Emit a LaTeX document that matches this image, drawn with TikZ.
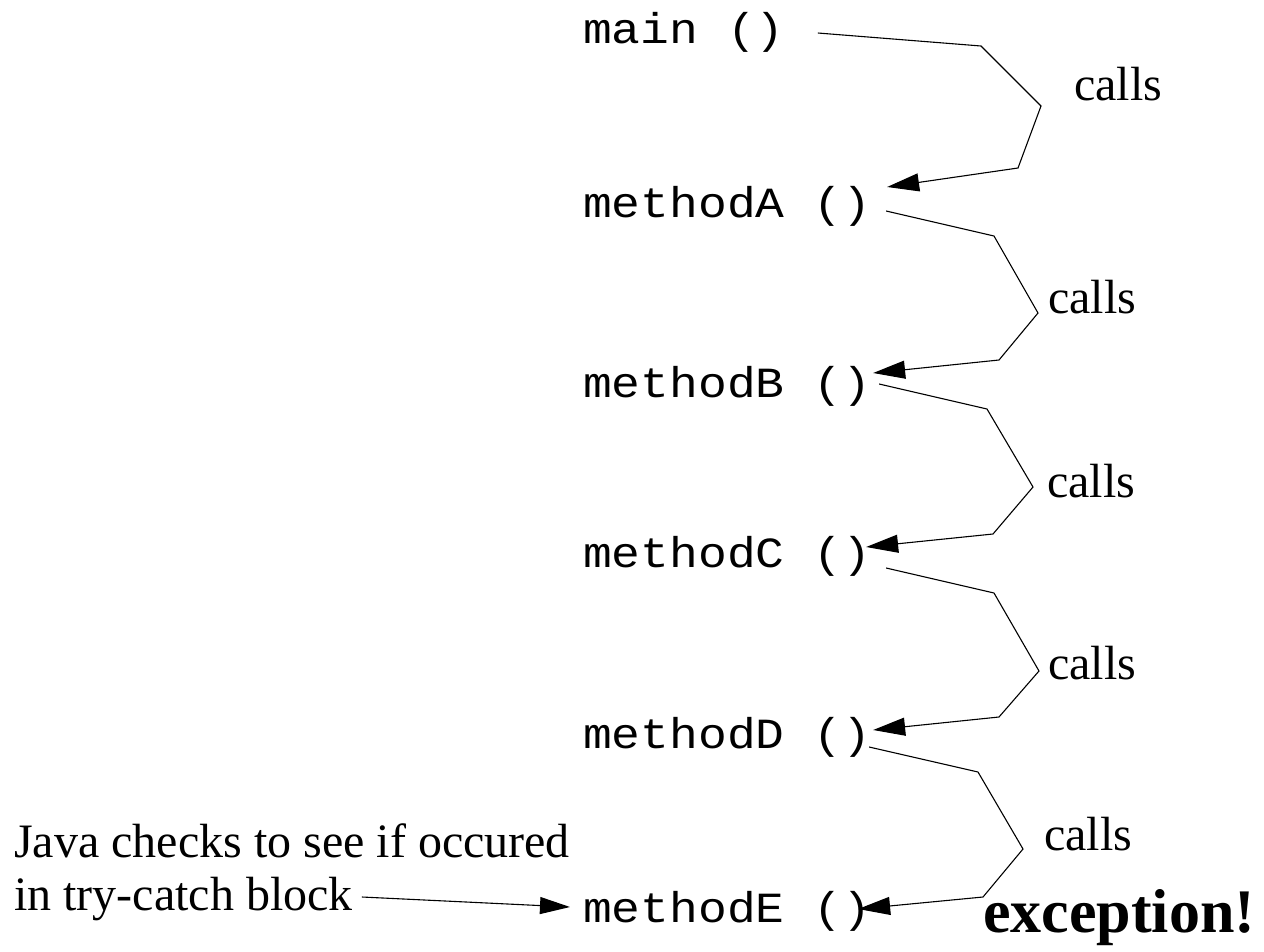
\documentclass[tikz,border=0pt]{standalone}
\usepackage{fontspec}
\setmainfont{Liberation Serif}
\setmonofont[FakeStretch=1.115]{Liberation Mono}
\usetikzlibrary{arrows.meta,calc}
\begin{document}
\begin{tikzpicture}[x=1pt,y=-1pt,
  meth/.style={inner sep=0pt,anchor=base west,font=\fontsize{43}{50}\selectfont\ttfamily},
  lbl/.style={inner sep=0pt,anchor=base west,font=\fontsize{48}{54}\selectfont},
  big/.style={inner sep=0pt,anchor=base west,font=\fontsize{62}{66}\selectfont\bfseries},
  conn/.style={line width=1.1pt,-{Triangle[length=32pt,width=18pt]}},
  ]
\useasboundingbox[fill=white] (0,0) rectangle (1264,951);
% method nodes
\node[meth] (main) at (583,43) {main ()};
\node[meth] (mA) at (583,217) {methodA ()};
\node[meth] (mB) at (583,397) {methodB ()};
\node[meth] (mC) at (583,567) {methodC ()};
\node[meth] (mD) at (583,748) {methodD ()};
\node[meth] (mE) at (583,922) {methodE ()};
% labels
\node[lbl] (c1) at (1074,100) {calls};
\node[lbl] (c2) at (1048,313) {calls};
\node[lbl] (c3) at (1047,497) {calls};
\node[lbl] (c4) at (1048,679) {calls};
\node[lbl] (c5) at (1044,850) {calls};
\node[lbl] (j1) at (14,857) {Java checks to see if occured};
\node[lbl] (j2) at (14,910) {in try-catch block};
\node[big] (ex) at (983,932) {exception!};
% connectors
\draw[conn] ($(main.base east)+(33,-10)$) -- (981,46) -- (1041,106) -- (1018,168) -- ($(mA.base east)+(16,-30)$);
\draw[conn] ($(mA.base east)+(15,-6)$) -- (994,236) -- (1038,313) -- (999,360) -- ($(mB.base east)+(2,-24)$);
\draw[conn] ($(mB.base east)+(8,-13)$) -- (987,409) -- (1033,487) -- (993,534) -- ($(mC.base east)+(-5,-20)$);
\draw[conn] ($(mC.base east)+(15,1)$) -- (994,593) -- (1039,671) -- (999,717) -- ($(mD.base east)+(2,-18)$);
\draw[conn] ($(mD.base east)+(-2,-1)$) -- (978,772) -- (1023,849) -- (983,897) -- ($(mE.base east)+(-13,-13)$);
\draw[line width=1.1pt,-{Triangle[length=30pt,width=17pt]}] ($(j2.base east)+(9,-13)$) -- ($(mE.base west)+(-13,-15)$);
\end{tikzpicture}
\end{document}
